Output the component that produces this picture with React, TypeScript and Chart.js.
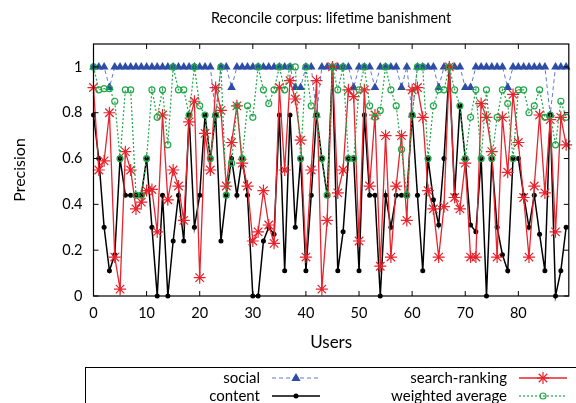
import React, { useEffect, useRef } from 'react';
import { Chart, registerables } from 'chart.js';

Chart.register(...registerables);

const chartTitle = 'Reconcile corpus: lifetime banishment';
const xTitle = 'Users';
const yTitle = 'Precision';
const seriesNames = ['social', 'search-ranking', 'content', 'weighted average'];

const users = [
  0, 1, 2, 3, 4, 5, 6, 7, 8, 9,
  10, 11, 12, 13, 14, 15, 16, 17, 18, 19,
  20, 21, 22, 23, 24, 25, 26, 27, 28, 29,
  30, 31, 32, 33, 34, 35, 36, 37, 38, 39,
  40, 41, 42, 43, 44, 45, 46, 47, 48, 49,
  50, 51, 52, 53, 54, 55, 56, 57, 58, 59,
  60, 61, 62, 63, 64, 65, 66, 67, 68, 69,
  70, 71, 72, 73, 74, 75, 76, 77, 78, 79,
  80, 81, 82, 83, 84, 85, 86, 87, 88, 89,
];

const social = [
  1, 1, 1, 0.91, 1, 1, 1, 1, 1, 1,
  1, 1, 1, 1, 1, 1, 1, 1, 1, 1,
  1, 1, 1, 0.79, 1, 1, 0.91, 1, 1, 1,
  1, 1, 1, 1, 1, 1, 1, 1, 0.91, 0.91,
  1, 1, 0.79, 1, 1, 1, 1, 1, 1, 0.91,
  1, 1, 1, 0.91, 1, 1, 1, 1, 0.91, 1,
  0.79, 1, 1, 1, 1, 0.91, 1, 1, 1, 1,
  0.91, 0.91, 1, 1, 1, 1, 1, 1, 0.91, 1,
  1, 1, 1, 1, 1, 1, 0.79, 1, 1, 1,
];

const content = [
  0.79, 0.6, 0.3, 0.11, 0.18, 0.6, 0.44, 0.44, 0.44, 0.44,
  0.6, 0.3, 0, 0.44, 0, 0.24, 0.44, 0.24, 0.79, 0.3,
  0.44, 0.79, 0.6, 0.79, 0.24, 0.44, 0.6, 0.44, 0.6, 0.44,
  0, 0, 0.24, 0.3, 0.27, 0.79, 0.11, 0.79, 0.3, 0.6,
  0.11, 0.44, 0.79, 0.6, 0.44, 1, 0.11, 0.28, 0.6, 0.6,
  0.11, 0.79, 0.44, 0.44, 0, 0.44, 0.3, 0.44, 0.44, 0.44,
  0.79, 0.44, 0.11, 0.6, 0.42, 0.31, 0.6, 1, 0.44, 0.83,
  0.6, 0.31, 0.28, 0.6, 0, 0.6, 0.3, 0.18, 0.11, 0.6,
  0.6, 0.44, 0.3, 0.44, 0.27, 0.11, 0.79, 0, 0.11, 0.3,
];

const searchRanking = [
  0.91, 0.55, 0.59, 0.8, 0.17, 0.03, 0.63, 0.55, 0.38, 0.41,
  0.46, 0.465, 0.28, 0.79, 0.42, 0.55, 0.48, 0.33, 0.76, 0.85,
  0.08, 0.71, 0.55, 0.91, 0.81, 0.48, 0.67, 0.83, 0.58, 0.48,
  0.24, 0.28, 0.46, 0.31, 0.23, 0.91, 0.55, 0.94, 0.86, 0.68,
  0.17, 0.55, 0.94, 0.03, 0.33, 1, 0.45, 0.55, 0.9, 0.87,
  0.24, 0.9, 0.48, 0.79, 0.13, 0.7, 0.17, 0.48, 0.7, 0.33,
  0.9, 0.91, 0.78, 0.46, 0.38, 0.17, 0.39, 1, 0.43, 0.38,
  0.58, 0.17, 0.17, 0.84, 0.78, 0.63, 0.17, 0.78, 0.54, 0.88,
  0.67, 0.43, 0.17, 0.48, 0.79, 0.45, 0.77, 0.28, 0.78, 0.66,
];

const weightedAverage = [
  1, 0.9, 0.905, 0.905, 0.85, 0.6, 0.9, 0.9, 0.44, 0.44,
  0.6, 0.9, 0.78, 0.9, 0.66, 1, 0.9, 0.9, 0.79, 1,
  0.83, 0.79, 0.6, 0.79, 1, 0.44, 0.58, 0.83, 0.6, 0.83,
  0.78, 1, 0.9, 0.84, 0.9, 1, 0.9, 1, 1, 0.6,
  1, 0.83, 0.79, 0.6, 0.44, 1, 0.9, 1, 0.6, 0.6,
  0.9, 1, 0.83, 0.78, 0.81, 1, 0.9, 0.83, 0.64, 0.44,
  0.79, 1, 1, 0.6, 0.83, 0.9, 0.9, 1, 0.9, 0.83,
  0.6, 0.78, 0.9, 0.6, 0.9, 0.6, 0.78, 0.9, 0.84, 0.6,
  0.9, 0.9, 0.8, 0.83, 0.9, 0.78, 0.79, 0.66, 0.85, 0.78,
];

const yTickValues = [0, 0.2, 0.4, 0.6, 0.8, 1];
const xTickValues = [0, 10, 20, 30, 40, 50, 60, 70, 80];

const FONT = 'Lato, "Open Sans", "DejaVu Sans", sans-serif';
const BLUE = '#2d4ca6';
const BLUE_LINE = '#5d7bcb';
const RED = '#e8232c';
const GREEN = '#1fa748';

const toPoints = (vals: number[]) => users.map((u, i) => ({ x: u, y: vals[i] }));

function drawMarker(ctx: CanvasRenderingContext2D, kind: string, x: number, y: number) {
  ctx.save();
  if (kind === 'triangle') {
    ctx.fillStyle = BLUE;
    ctx.beginPath();
    ctx.moveTo(x, y - 5);
    ctx.lineTo(x + 4.6, y + 3);
    ctx.lineTo(x - 4.6, y + 3);
    ctx.closePath();
    ctx.fill();
  } else if (kind === 'dot') {
    ctx.fillStyle = '#000';
    ctx.beginPath();
    ctx.arc(x, y, 2.5, 0, Math.PI * 2);
    ctx.fill();
  } else if (kind === 'star') {
    ctx.strokeStyle = RED;
    ctx.lineWidth = 1.2;
    const r = 6;
    for (let k = 0; k < 4; k++) {
      const ang = (k * Math.PI) / 4;
      ctx.beginPath();
      ctx.moveTo(x - r * Math.cos(ang), y - r * Math.sin(ang));
      ctx.lineTo(x + r * Math.cos(ang), y + r * Math.sin(ang));
      ctx.stroke();
    }
  } else if (kind === 'circle') {
    ctx.strokeStyle = GREEN;
    ctx.lineWidth = 1.2;
    ctx.beginPath();
    ctx.arc(x, y, 3, 0, Math.PI * 2);
    ctx.stroke();
  }
  ctx.restore();
}

const decorPlugin = {
  id: 'decor',
  afterDraw(chart: any) {
    const { ctx, chartArea: a, scales } = chart;
    const xs = scales.x;
    const ys = scales.y;
    ctx.save();
    ctx.strokeStyle = '#000';
    ctx.lineWidth = 1.2;
    ctx.strokeRect(a.left, a.top, a.right - a.left, a.bottom - a.top);
    ctx.lineWidth = 1;
    const tl = 5;
    ctx.beginPath();
    yTickValues.forEach((v) => {
      const py = ys.getPixelForValue(v);
      ctx.moveTo(a.left, py);
      ctx.lineTo(a.left + tl, py);
      ctx.moveTo(a.right, py);
      ctx.lineTo(a.right - tl, py);
    });
    xTickValues.forEach((v) => {
      const px = xs.getPixelForValue(v);
      ctx.moveTo(px, a.bottom);
      ctx.lineTo(px, a.bottom - tl);
      ctx.moveTo(px, a.top);
      ctx.lineTo(px, a.top + tl);
    });
    ctx.stroke();

    ctx.fillStyle = '#000';
    ctx.textAlign = 'center';
    ctx.textBaseline = 'middle';
    ctx.font = `14.5px ${FONT}`;
    ctx.fillText(chartTitle, (a.left + a.right) / 2, 18);

    ctx.font = `17px ${FONT}`;
    ctx.fillText(xTitle, (a.left + a.right) / 2, 343);
    ctx.save();
    ctx.translate(20, (a.top + a.bottom) / 2);
    ctx.rotate(-Math.PI / 2);
    ctx.font = `16px ${FONT}`;
    ctx.fillText(yTitle, 0, 0);
    ctx.restore();

    ctx.lineWidth = 1;
    ctx.strokeStyle = '#000';
    ctx.strokeRect(85.5, 367.5, 600, 100);

    ctx.font = `15px ${FONT}`;
    ctx.textAlign = 'right';
    const rows = [378, 396];
    const cols = [
      { textX: 260, l0: 272, l1: 320 },
      { textX: 507, l0: 519, l1: 567 },
    ];
    const entries = [
      { name: seriesNames[0], row: 0, col: 0, color: BLUE_LINE, dash: [4, 3], w: 1, marker: 'triangle' },
      { name: seriesNames[1], row: 0, col: 1, color: RED, dash: [], w: 1.3, marker: 'star' },
      { name: seriesNames[2], row: 1, col: 0, color: '#000', dash: [], w: 1.5, marker: 'dot' },
      { name: seriesNames[3], row: 1, col: 1, color: GREEN, dash: [2, 2], w: 1.2, marker: 'circle' },
    ];
    entries.forEach((e) => {
      const y = rows[e.row];
      const c = cols[e.col];
      ctx.fillStyle = '#000';
      ctx.fillText(e.name, c.textX, y);
      ctx.save();
      ctx.strokeStyle = e.color;
      ctx.lineWidth = e.w;
      ctx.setLineDash(e.dash);
      ctx.beginPath();
      ctx.moveTo(c.l0, y);
      ctx.lineTo(c.l1, y);
      ctx.stroke();
      ctx.restore();
      drawMarker(ctx, e.marker, (c.l0 + c.l1) / 2, y);
    });
    ctx.restore();
  },
};

export default function App() {
  const ref = useRef<HTMLCanvasElement | null>(null);

  useEffect(() => {
    if (!ref.current) return;
    const chart = new Chart(ref.current, {
      type: 'line',
      data: {
        datasets: [
          {
            label: seriesNames[3],
            data: toPoints(weightedAverage),
            borderColor: GREEN,
            borderWidth: 1.2,
            borderDash: [2, 2],
            pointStyle: 'circle',
            pointRadius: 3,
            pointBorderWidth: 1.2,
            pointBorderColor: GREEN,
            pointBackgroundColor: 'rgba(255,255,255,0)',
            tension: 0,
            clip: 10,
            order: 0,
          },
          {
            label: seriesNames[1],
            data: toPoints(searchRanking),
            borderColor: RED,
            borderWidth: 1.3,
            pointStyle: 'star',
            pointRadius: 6,
            pointBorderWidth: 1.2,
            pointBorderColor: RED,
            pointBackgroundColor: RED,
            tension: 0,
            clip: 10,
            order: 1,
          },
          {
            label: seriesNames[2],
            data: toPoints(content),
            borderColor: '#000',
            borderWidth: 1.5,
            pointStyle: 'circle',
            pointRadius: 2.5,
            pointBorderWidth: 0,
            pointBackgroundColor: '#000',
            tension: 0,
            clip: 10,
            order: 2,
          },
          {
            label: seriesNames[0],
            data: toPoints(social),
            borderColor: BLUE_LINE,
            borderWidth: 1,
            borderDash: [4, 3],
            pointStyle: 'triangle',
            pointRadius: 5,
            pointBorderWidth: 0,
            pointBackgroundColor: BLUE,
            tension: 0,
            clip: 10,
            order: 3,
          },
        ],
      },
      options: {
        responsive: false,
        animation: false,
        devicePixelRatio: 1,
        layout: { padding: { top: 44, right: 3, bottom: 47, left: 0 } },
        plugins: {
          legend: { display: false },
          tooltip: { enabled: false },
          title: { display: false },
        },
        scales: {
          x: {
            type: 'linear',
            min: 0,
            max: 89.5,
            grid: { display: false, drawTicks: false },
            border: { display: false },
            afterBuildTicks: (s: any) => {
              s.ticks = xTickValues.map((v) => ({ value: v }));
            },
            afterFit: (s: any) => {
              s.height = 60;
            },
            ticks: {
              color: '#000',
              padding: 9,
              maxRotation: 0,
              font: { family: FONT, size: 14.5 },
              callback: (v: any) => String(v),
            },
          },
          y: {
            type: 'linear',
            min: 0,
            max: 1.1,
            grid: { display: false, drawTicks: false },
            border: { display: false },
            afterBuildTicks: (s: any) => {
              s.ticks = yTickValues.map((v) => ({ value: v }));
            },
            afterFit: (s: any) => {
              s.width = 93.5;
            },
            ticks: {
              color: '#000',
              padding: 11,
              font: { family: FONT, size: 14.5 },
              callback: (v: any) => String(Number(Number(v).toFixed(1))),
            },
          },
        },
      },
      plugins: [decorPlugin],
    });
    return () => chart.destroy();
  }, []);

  return (
    <div style={{ position: 'absolute', left: 0, top: 0, width: 576, height: 403, background: '#fff' }}>
      <canvas ref={ref} width={576} height={403} style={{ width: 576, height: 403, display: 'block' }} />
    </div>
  );
}
